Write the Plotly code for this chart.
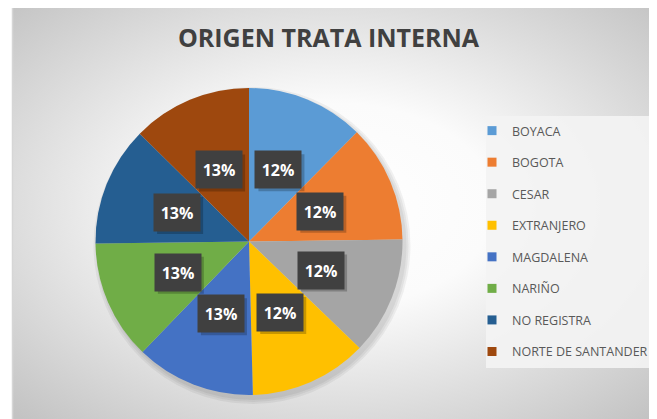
import math
import base64
import plotly.graph_objects as go

# ---------------- data ----------------
categories = ["BOYACA", "BOGOTA", "CESAR", "EXTRANJERO", "MAGDALENA",
              "NARIÑO", "NO REGISTRA", "NORTE DE SANTANDER"]
values = [12.4, 12.4, 12.4, 12.4, 12.6, 12.6, 12.6, 12.6]
colors = ["#5B9BD5", "#ED7D31", "#A5A5A5", "#FFC000", "#4472C4",
          "#70AD47", "#255E91", "#9E480E"]
title_text = "ORIGEN TRATA INTERNA"

# ---------------- geometry ----------------
# the page body has an 8px margin, so the figure origin sits at (8, 8)
OFF = 8
W, H = 657 - OFF, 419 - OFF
CX, CY, R = 249.0 - OFF, 241.5 - OFF, 153.5
LABEL_R = 0.505          # label distance as fraction of radius
BOX_W, BOX_H = 46, 37


def px(x):
    return x / W


def py(y):
    return 1 - y / H


def wx(x):   # window pixel -> paper x
    return px(x - OFF)


def wy(y):   # window pixel -> paper y
    return py(y - OFF)


fig = go.Figure()

fig.add_trace(go.Pie(
    labels=categories,
    values=values,
    marker=dict(colors=colors, line=dict(width=0)),
    sort=False,
    direction="clockwise",
    rotation=0,
    textinfo="none",
    hoverinfo="label+percent",
    showlegend=False,
    domain=dict(x=[px(CX - R), px(CX + R)], y=[py(CY + R), py(CY - R)]),
))

# legend entries (one per category, so spacing can match)
for name, col in zip(categories, colors):
    fig.add_trace(go.Scatter(
        x=[None], y=[None], mode="markers", name=name, legendgroup=name,
        marker=dict(symbol="square", size=9, color=col),
        showlegend=True, hoverinfo="skip",
    ))

total = sum(values)
annotations = []
shapes = []

# pie shadow (soft, bottom-right)
for k, a in enumerate([0.05, 0.05, 0.05]):
    rr = R + 1 + 2 * k
    sx, sy = CX + 3, CY + 4
    shapes.append(dict(type="circle", xref="paper", yref="paper", layer="below",
                       x0=px(sx - rr), x1=px(sx + rr), y0=py(sy + rr), y1=py(sy - rr),
                       fillcolor=f"rgba(0,0,0,{a})", line=dict(width=0)))

# legend background box
shapes.append(dict(type="rect", xref="paper", yref="paper", layer="below",
                   x0=wx(486), x1=1.0, y0=wy(368), y1=wy(116),
                   fillcolor="rgba(243,243,243,0.92)", line=dict(width=0)))

# chart-area border (left edge)
shapes.append(dict(type="line", xref="paper", yref="paper", layer="below",
                   x0=wx(12.5), x1=wx(12.5), y0=0, y1=1,
                   line=dict(color="#d6d6d6", width=1.5)))

cum = 0.0
for v in values:
    theta = 2 * math.pi * (cum + v / 2) / total
    cum += v
    lx = CX + R * LABEL_R * math.sin(theta)
    ly = CY - R * LABEL_R * math.cos(theta)
    # label shadow
    shapes.append(dict(type="rect", xref="paper", yref="paper", layer="above",
                       x0=px(lx - BOX_W / 2 + 3), x1=px(lx + BOX_W / 2 + 3),
                       y0=py(ly + BOX_H / 2 + 3), y1=py(ly - BOX_H / 2 + 3),
                       fillcolor="rgba(0,0,0,0.22)", line=dict(width=0)))
    annotations.append(dict(
        x=px(lx), y=py(ly), xref="paper", yref="paper",
        text=f"{round(100 * v / total)}%", showarrow=False,
        width=BOX_W, height=BOX_H, borderpad=0, bgcolor="#404040",
        font=dict(family="Open Sans", size=16, color="white", weight=700),
        xanchor="center", yanchor="middle", align="center", valign="middle",
    ))

# background radial gradient for chart area
svg = ('<svg xmlns="http://www.w3.org/2000/svg" width="645" height="414" '
       'preserveAspectRatio="none">'
       '<defs><radialGradient id="g" cx="0.5" cy="0.48" r="0.71">'
       '<stop offset="0" stop-color="#ffffff"/>'
       '<stop offset="0.35" stop-color="#fbfbfb"/>'
       '<stop offset="1" stop-color="#c3c3c3"/>'
       '</radialGradient></defs>'
       '<rect width="645" height="414" fill="url(#g)"/></svg>')
src = "data:image/svg+xml;base64," + base64.b64encode(svg.encode()).decode()

fig.update_layout(
    width=W, height=H,
    margin=dict(l=0, r=0, t=0, b=0),
    paper_bgcolor="white",
    plot_bgcolor="rgba(0,0,0,0)",
    xaxis=dict(visible=False),
    yaxis=dict(visible=False),
    title=dict(text=title_text, x=wx(328.5), xanchor="center", xref="paper",
               y=wy(38.5), yanchor="middle", yref="paper",
               font=dict(family="Open Sans", size=25, color="#404040", weight=700)),
    legend=dict(x=wx(472), y=wy(116), xanchor="left", yanchor="top",
                bgcolor="rgba(0,0,0,0)", tracegroupgap=12.3,
                font=dict(family="Open Sans", size=12.5, color="#595959")),
    images=[dict(source=src, xref="paper", yref="paper", x=wx(12), y=1,
                 sizex=1 - wx(12), sizey=1, xanchor="left", yanchor="top",
                 sizing="stretch", layer="below")],
    shapes=shapes,
    annotations=annotations,
)

fig.write_html("out.html")
